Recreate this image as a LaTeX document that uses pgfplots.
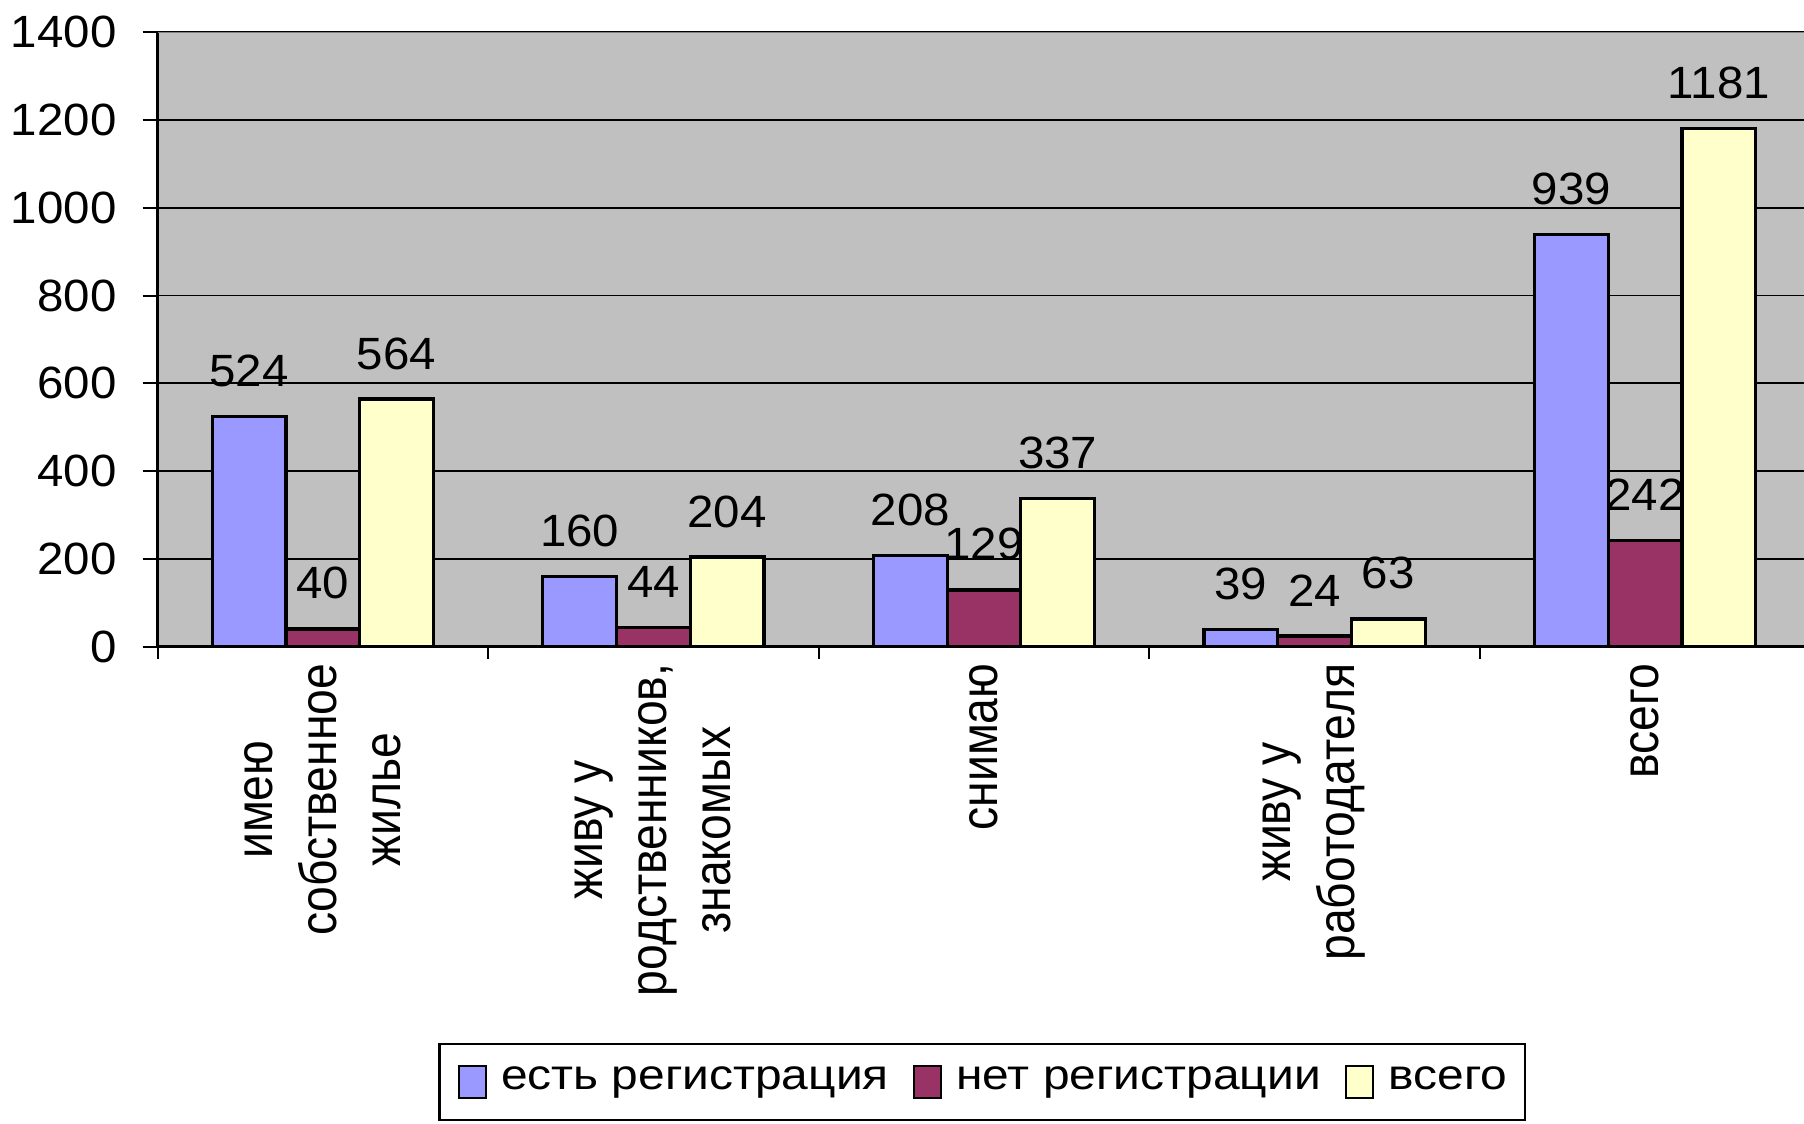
\documentclass[border=0pt]{standalone}
\usepackage{fontspec}
\setmainfont{Liberation Sans}
\newfontfamily\tickfont{Liberation Sans}[FakeStretch=1.05]
\newfontfamily\legfont{Liberation Sans}[FakeStretch=1.13]
\newfontfamily\xlabfont{Liberation Sans}[FakeStretch=0.89]
\usepackage{pgfplots}
\pgfplotsset{compat=1.18}
\definecolor{bblue}{HTML}{9999FF}
\definecolor{bmaroon}{HTML}{993366}
\definecolor{byellow}{HTML}{FFFFCC}
\definecolor{bggray}{HTML}{C0C0C0}
\begin{document}
\begin{tikzpicture}
\begin{axis}[
  scale only axis, width=413.2pt, height=153.6pt,
  xmin=-0.5, xmax=4.5, ymin=0, ymax=1400,
  ytick={0,200,...,1400},
  xtick={0,1,2,3,4},
  xticklabels={{имею\\собственное\\жилье},{живу у\\родственников,\\знакомых},{снимаю},{живу у\\работодателя},{всего}},
  minor xtick={-0.5,0.5,1.5,2.5,3.5,4.5},
  major x tick style={draw=none},
  tick align=outside,
  major tick length=3.75pt, minor tick length=3pt,
  tick style={black, line width=0.5pt},
  axis x line*=bottom, axis y line*=left,
  axis line style={black, line width=0.6pt},
  axis background/.style={fill=bggray},
  ymajorgrids, grid style={black, line width=0.4pt},
  /pgf/number format/assume math mode=true,
  /pgf/number format/1000 sep={},
  yticklabel style={font=\tickfont\fontsize{11.3}{13}\selectfont, xshift=-3pt},
  xticklabel style={rotate=90, anchor=east, align=center, xshift=3pt, font=\xlabfont\fontsize{13}{16}\selectfont},
  ybar=0pt, bar width=0.223,
  nodes near coords,
  every node near coord/.append style={font=\tickfont\fontsize{11.3}{13}\selectfont, anchor=south, inner sep=0pt, yshift=7pt, black},
  legend columns=3,
  legend style={at={(0.499,-0.645)}, anchor=north, draw=black, line width=0.6pt, inner xsep=4.5pt, inner ysep=5.2pt,
    font=\legfont\fontsize{10.6}{12}\selectfont, nodes={inner sep=0pt},
    /tikz/every odd column/.append style={column sep=3.5pt},
    /tikz/every even column/.append style={column sep=6pt}},
  legend image code/.code={\draw[#1,draw=black,line width=0.6pt] (0pt,-4.2pt) rectangle (6.8pt,3.8pt);},
]
\addplot[fill=bblue, draw=black, line width=0.8pt, bar shift=-0.223] coordinates {(0,524) (1,160) (2,208) (3,39) (4,939)};
\addplot[fill=bmaroon, draw=black, line width=0.8pt, bar shift=0] coordinates {(0,40) (1,44) (2,129) (3,24) (4,242)};
\addplot[fill=byellow, draw=black, line width=0.8pt, bar shift=0.223] coordinates {(0,564) (1,204) (2,337) (3,63) (4,1181)};
\legend{есть регистрация, нет регистрации, всего}
\draw[color=gray, line width=0.6pt] (rel axis cs:0,1) -- (rel axis cs:1,1);
\end{axis}
\pgfresetboundingbox
\path[use as bounding box] (-39.4pt,-119.35pt) rectangle (411.6pt,161.65pt);
\end{tikzpicture}
\end{document}
